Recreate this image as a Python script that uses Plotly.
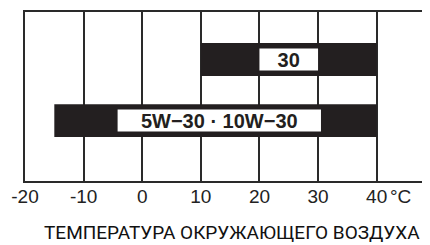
import plotly.graph_objects as go

# ---- data ----
grades = ["30", "5W\u221230 · 10W\u221230"]
rows = [1, 2]
temp_min = [10, -15]
temp_max = [40, 40]
label_min = [20, -4.2]
label_max = [30, 30.5]
tick_vals = [-20, -10, 0, 10, 20, 30, 40]
tick_text = ["-20", "-10", "0", "10", "20", "30", "40"]
unit_text = "°C"
axis_title = "ТЕМПЕРАТУРА ОКРУЖАЮЩЕГО ВОЗДУХА"

INK = "#231f20"
LINE = "#2a2a2a"
SANS = "Liberation Sans, Arial, Helvetica, sans-serif"
NARROW = "Roboto, Liberation Sans, sans-serif"

fig = go.Figure()
fig.add_trace(go.Bar(
    y=rows, x=[b - a for a, b in zip(temp_min, temp_max)], base=temp_min,
    orientation="h", width=0.54, marker=dict(color=INK, line=dict(width=0)),
    hoverinfo="skip", showlegend=False,
))
fig.add_trace(go.Bar(
    y=rows, x=[b - a for a, b in zip(label_min, label_max)], base=label_min,
    orientation="h", width=0.36, marker=dict(color="white", line=dict(width=0)),
    text=grades, textposition="inside", insidetextanchor="middle",
    constraintext="none", textangle=0,
    textfont=dict(family=SANS, size=20, color=INK, weight="bold"),
    hoverinfo="skip", showlegend=False,
))

fig.add_annotation(text=unit_text, xref="x", yref="paper", x=tick_vals[-1], y=-0.089,
                   xanchor="left", yanchor="middle", xshift=11, showarrow=False,
                   font=dict(family=SANS, size=19, color="#222"))
fig.add_annotation(text=axis_title, xref="paper", yref="paper", x=0.51, y=-0.305,
                   xanchor="center", yanchor="middle", showarrow=False, borderpad=0,
                   font=dict(family=NARROW, size=19, color="#111"))

fig.update_layout(
    width=422, height=237,
    margin=dict(l=17, r=0, t=4, b=64),
    paper_bgcolor="white", plot_bgcolor="white",
    barmode="overlay",
    xaxis=dict(range=[-20, 49.1], tickvals=tick_vals, ticktext=tick_text,
               showgrid=True, gridcolor=LINE, gridwidth=1.5,
               showline=True, linecolor=LINE, linewidth=2, mirror=True,
               ticks="", zeroline=False, ticklabelstandoff=-3,
               tickfont=dict(family=SANS, size=19, color="#222")),
    yaxis=dict(range=[2.99, 0.22], showgrid=False, showticklabels=False,
               showline=True, linecolor=LINE, linewidth=2, zeroline=False, ticks=""),
)

fig.write_html("out.html")
